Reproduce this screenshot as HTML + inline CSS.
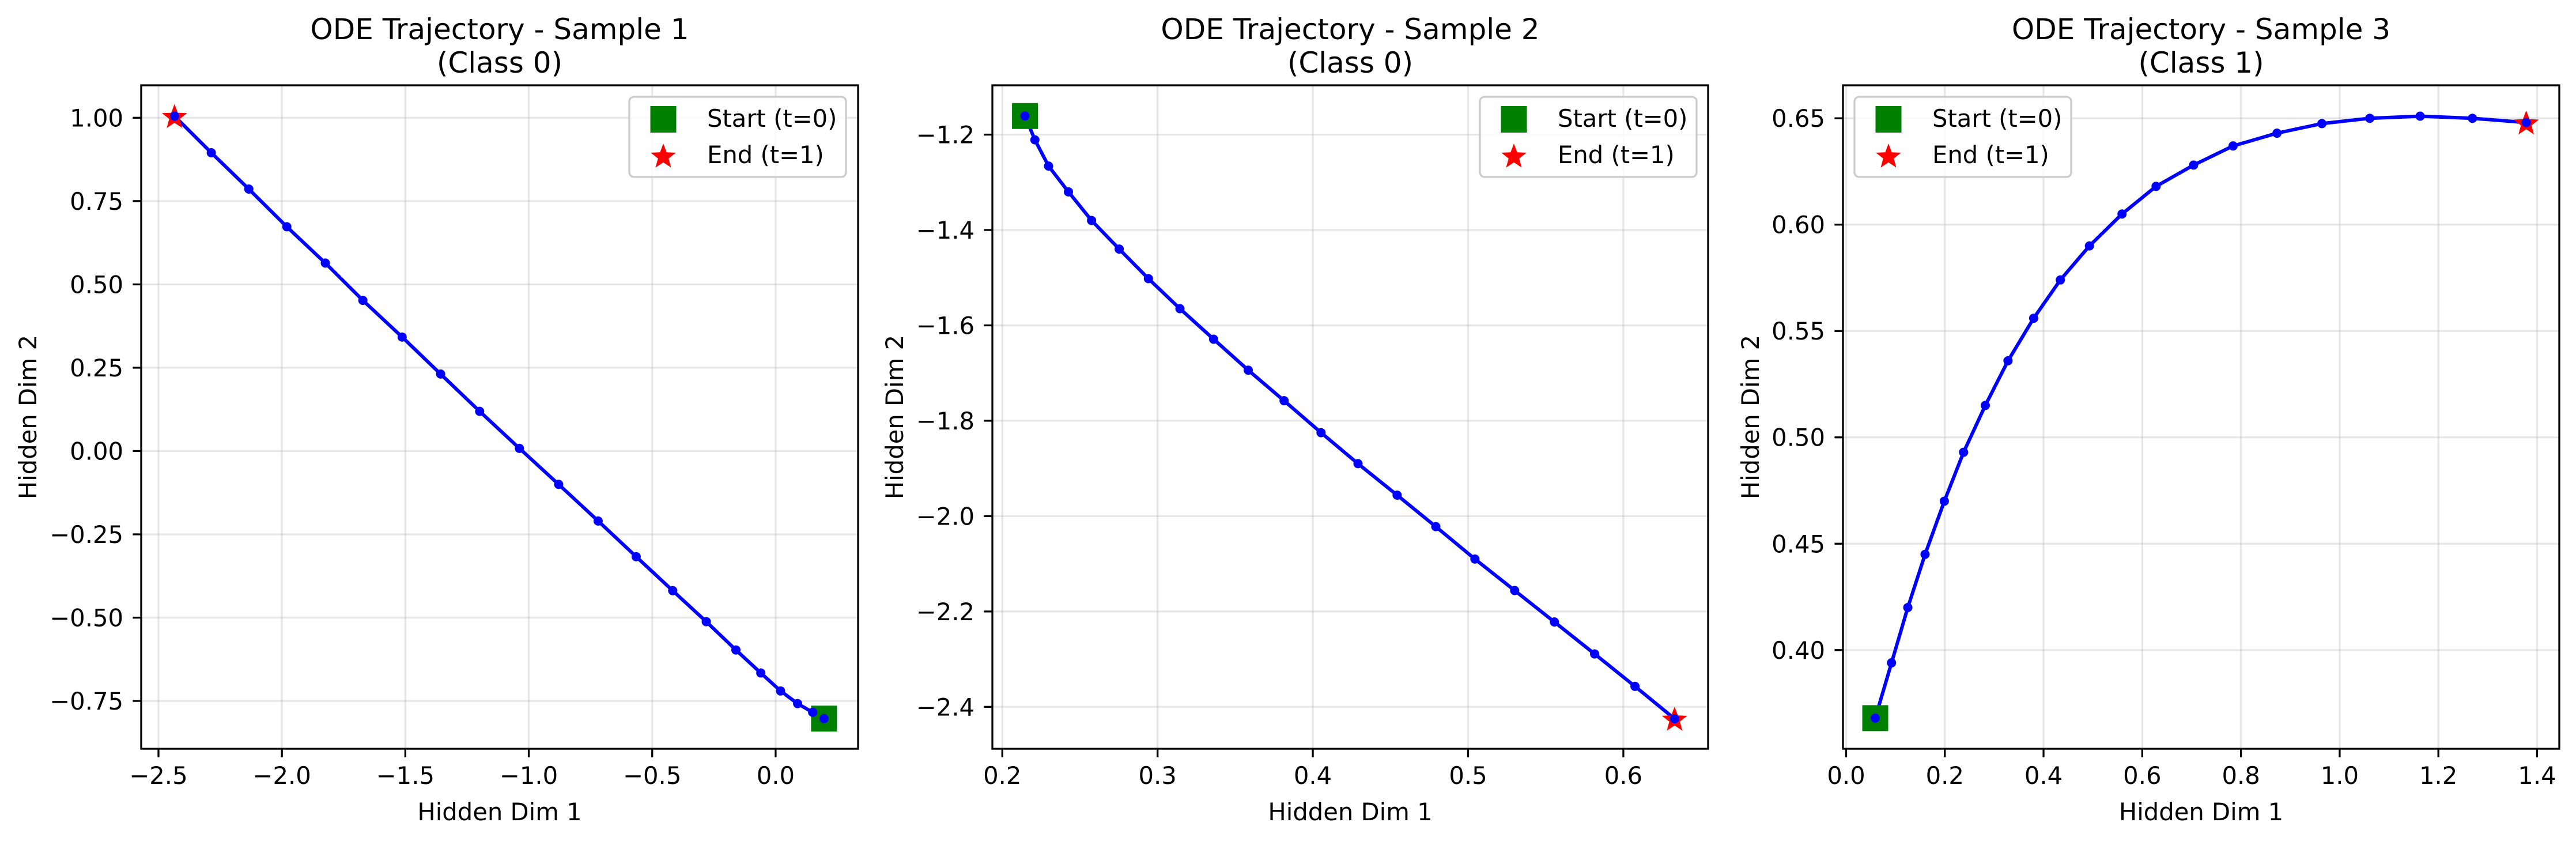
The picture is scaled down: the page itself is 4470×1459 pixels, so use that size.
<!DOCTYPE html>
<html><head><meta charset="utf-8"><style>
html,body{margin:0;padding:0;background:#fff;}
svg{display:block;font-family:"DejaVu Sans","Liberation Sans",sans-serif;}
</style></head><body>
<svg id="fig" width="4470" height="1459" viewBox="0 0 4470 1459" xmlns="http://www.w3.org/2000/svg"></svg>
<script>
const p1X=[0.196,0.150,0.089,0.020,-0.060,-0.161,-0.281,-0.417,-0.565,-0.719,-0.879,-1.038,-1.199,-1.357,-1.513,-1.672,-1.824,-1.980,-2.134,-2.286,-2.435];
const p1Y=[-0.803,-0.784,-0.758,-0.720,-0.666,-0.597,-0.512,-0.419,-0.317,-0.210,-0.100,0.008,0.119,0.231,0.342,0.452,0.564,0.673,0.786,0.895,1.005];
const p2X=[0.2146,0.2210,0.2298,0.2426,0.2575,0.2753,0.2941,0.3144,0.3361,0.3584,0.3815,0.4053,0.4291,0.4543,0.4792,0.5044,0.5300,0.5556,0.5815,0.6075,0.6330];
const p2Y=[-1.161,-1.211,-1.266,-1.320,-1.380,-1.440,-1.502,-1.565,-1.629,-1.694,-1.758,-1.825,-1.890,-1.956,-2.022,-2.090,-2.156,-2.222,-2.289,-2.357,-2.425];
const p3X=[0.059,0.092,0.125,0.160,0.199,0.238,0.282,0.328,0.380,0.434,0.493,0.559,0.628,0.704,0.784,0.873,0.964,1.061,1.163,1.269,1.378];
const p3Y=[0.368,0.394,0.420,0.445,0.470,0.493,0.515,0.536,0.556,0.574,0.590,0.605,0.618,0.628,0.637,0.643,0.6475,0.650,0.651,0.650,0.648];
const p1XTicks=[-2.5,-2.0,-1.5,-1.0,-0.5,0.0];
const p1YTicks=[-0.75,-0.5,-0.25,0,0.25,0.5,0.75,1.0];
const p2XTicks=[0.2,0.3,0.4,0.5,0.6];
const p2YTicks=[-2.4,-2.2,-2.0,-1.8,-1.6,-1.4,-1.2];
const p3XTicks=[0.0,0.2,0.4,0.6,0.8,1.0,1.2,1.4];
const p3YTicks=[0.40,0.45,0.50,0.55,0.60,0.65];
const titles=["ODE Trajectory - Sample 1","ODE Trajectory - Sample 2","ODE Trajectory - Sample 3"];
const classes=["(Class 0)","(Class 0)","(Class 1)"];

const NS="http://www.w3.org/2000/svg";
const svg=document.getElementById('fig');
function mk(tag,attrs,parent){const e=document.createElementNS(NS,tag);for(const k in attrs)e.setAttribute(k,attrs[k]);(parent||svg).appendChild(e);return e;}
function fmt(v,d){const s=Math.abs(v).toFixed(d);return (v<-1e-9?"\u2212":"")+s;}
function star(cx,cy,R){const r=R*0.42;let pts=[];for(let i=0;i<10;i++){const a=-Math.PI/2+i*Math.PI/5;const rr=i%2?r:R;pts.push((cx+rr*Math.cos(a)).toFixed(1)+","+(cy+rr*Math.sin(a)).toFixed(1));}return pts.join(" ");}

const panels=[
 {L:245,R:1489,xmin:-2.570,xmax:0.334,ymin:-0.8935,ymax:1.0974,X:p1X,Y:p1Y,xt:p1XTicks,yt:p1YTicks,xd:1,yd:2,legX:1092,ylOff:182},
 {L:1722,R:2964,xmin:0.1936,xmax:0.6546,ymin:-2.4879,ymax:-1.0966,X:p2X,Y:p2Y,xt:p2XTicks,yt:p2YTicks,xd:1,yd:1,legX:2568,ylOff:155},
 {L:3198,R:4441,xmin:-0.0064,xmax:1.445,ymin:0.3536,ymax:0.6655,X:p3X,Y:p3Y,xt:p3XTicks,yt:p3YTicks,xd:1,yd:2,legX:3218,ylOff:146}
];
const T=148,B=1299;
panels.forEach((p,i)=>{
 const g=mk('g',{});
 
 
 const sx=v=>p.L+(v-p.xmin)/(p.xmax-p.xmin)*(p.R-p.L);
 const sy=v=>B-(v-p.ymin)/(p.ymax-p.ymin)*(B-T);
 const cx=(p.L+p.R)/2;
 p.xt.forEach(v=>{const l=mk('line',{x1:sx(v),x2:sx(v),y1:T,y2:B,stroke:'#b0b0b0','stroke-opacity':0.3,'stroke-width':3.3},g);});
 p.yt.forEach(v=>{const l=mk('line',{x1:p.L,x2:p.R,y1:sy(v),y2:sy(v),stroke:'#b0b0b0','stroke-opacity':0.3,'stroke-width':3.3},g);});
 const d=p.X.map((x,k)=>(k?'L':'M')+sx(x).toFixed(1)+','+sy(p.Y[k]).toFixed(1)).join(' ');
 const path=mk('path',{d:d,fill:'none',stroke:'#0000ff','stroke-width':6,'stroke-linejoin':'round'},g);
 
 
 const n=p.X.length;
 const sq=mk('rect',{x:sx(p.X[0])-22.5,y:sy(p.Y[0])-22.5,width:45,height:45,fill:'#008000'},g);
 
 
 const st=mk('polygon',{points:star(sx(p.X[n-1]),sy(p.Y[n-1])+2,23),fill:'#ff0000'},g);
 
 
 p.X.forEach((x,k)=>{const c=mk('circle',{cx:sx(x),cy:sy(p.Y[k]),r:8,fill:'#0000ff'},g);});
 const fr=mk('rect',{x:p.L,y:T,width:p.R-p.L,height:B-T,fill:'none',stroke:'#000','stroke-width':3.3},g);
 
 
 p.xt.forEach(v=>{mk('line',{x1:sx(v),x2:sx(v),y1:B,y2:B+14.6,stroke:'#000','stroke-width':3.3},g);
  const t=mk('text',{x:sx(v),y:B+61,'font-size':41.7,'text-anchor':'middle',fill:'#000'},g);t.textContent=fmt(v,p.xd);
  });
 p.yt.forEach(v=>{mk('line',{x1:p.L,x2:p.L-14.6,y1:sy(v),y2:sy(v),stroke:'#000','stroke-width':3.3},g);
  const t=mk('text',{x:p.L-31,y:sy(v)+15,'font-size':41.7,'text-anchor':'end',fill:'#000'},g);t.textContent=fmt(v,p.yd);
  });
 const xl=mk('text',{x:cx,y:1423,'font-size':41.7,'text-anchor':'middle',fill:'#000'},g);xl.textContent='Hidden Dim 1';
 
 const ylx=p.L-p.ylOff;
 const yl=mk('text',{x:ylx,y:(T+B)/2,'font-size':41.7,'text-anchor':'middle',fill:'#000',transform:`rotate(-90 ${ylx} ${(T+B)/2})`},g);yl.textContent='Hidden Dim 2';
 
 const t1=mk('text',{x:cx,y:68,'font-size':50,'text-anchor':'middle',fill:'#000'},g);t1.textContent=titles[i];
 
 const t2=mk('text',{x:cx,y:126,'font-size':50,'text-anchor':'middle',fill:'#000'},g);t2.textContent=classes[i];
 
 const lg=mk('g',{},g);
 
 
 const lx=p.legX;
 mk('rect',{x:lx,y:168,width:376,height:139,rx:8,fill:'#fff','fill-opacity':0.8,stroke:'#cccccc','stroke-width':3.3},lg);
 const ls=mk('rect',{x:lx+59-22.5,y:207-23,width:45,height:46,fill:'#008000'},lg);
 
 const le=mk('polygon',{points:star(lx+59,272,23),fill:'#ff0000'},lg);
 
 const lt1=mk('text',{x:lx+135,y:220,'font-size':41.7,fill:'#000'},lg);lt1.textContent='Start (t=0)';
 
 const lt2=mk('text',{x:lx+135,y:283,'font-size':41.7,fill:'#000'},lg);lt2.textContent='End (t=1)';
 
});
</script>
</body></html>
